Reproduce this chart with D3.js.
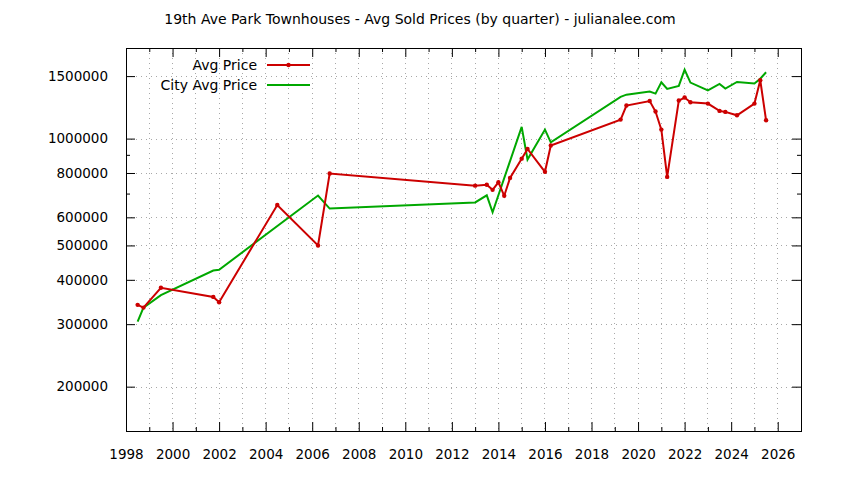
<!DOCTYPE html>
<html>
<head>
<meta charset="utf-8">
<script src="https://cdn.jsdelivr.net/npm/d3@7"></script>
<style>
  html, body { margin: 0; padding: 0; background: #ffffff; }
  svg { display: block; font-family: "DejaVu Sans", sans-serif; }
</style>
</head>
<body>
<svg id="chart" width="844" height="480"></svg>
<script>
// ---- data ----
const titleText = "19th Ave Park Townhouses - Avg Sold Prices (by quarter) - julianalee.com";
const seriesNames = ["Avg Price", "City Avg Price"];

const avgQuarters = [1998.5, 1998.75, 1999.5, 2001.75, 2002.0, 2004.5, 2006.25, 2006.75,
  2013.0, 2013.5, 2013.75, 2014.0, 2014.25, 2014.5, 2015.0, 2015.25, 2016.0, 2016.25,
  2019.25, 2019.5, 2020.5, 2020.75, 2021.0, 2021.25, 2021.75, 2022.0, 2022.25,
  2023.0, 2023.5, 2023.75, 2024.25, 2025.0, 2025.25, 2025.5];
const avgPrices = [340000, 334000, 380000, 358000, 346000, 650000, 500000, 797000,
  737000, 741000, 717000, 753000, 690000, 775000, 878000, 935000, 806000, 956000,
  1131000, 1239000, 1276000, 1192000, 1060000, 780000, 1280000, 1305000, 1266000,
  1255000, 1197000, 1189000, 1163000, 1255000, 1460000, 1126000];

const cityQuarters = [1998.5, 1998.75, 1999.5, 2001.75, 2002.0, 2006.25, 2006.75,
  2013.0, 2013.5, 2013.75, 2015.0, 2015.25, 2016.0, 2016.25,
  2019.25, 2019.5, 2020.5, 2020.75, 2021.0, 2021.25, 2021.75, 2022.0, 2022.25,
  2023.0, 2023.5, 2023.75, 2024.25, 2025.0, 2025.25, 2025.5];
const cityPrices = [305000, 334000, 362000, 425000, 427000, 691000, 635000,
  661000, 692000, 620000, 1079000, 873000, 1060000, 976000,
  1311000, 1330000, 1357000, 1339000, 1441000, 1380000, 1408000, 1565000, 1438000,
  1368000, 1426000, 1383000, 1444000, 1429000, 1475000, 1538000];

const xDomain = [1998, 2027];
const xMajorTicks = [1998, 2000, 2002, 2004, 2006, 2008, 2010, 2012, 2014, 2016, 2018, 2020, 2022, 2024, 2026];
const xMinorTicks = [1999, 2001, 2003, 2005, 2007, 2009, 2011, 2013, 2015, 2017, 2019, 2021, 2023, 2025, 2027];
const yDomain = [150000, 1800000];
const yMajorTicks = [200000, 300000, 400000, 500000, 600000, 800000, 1000000, 1500000];
const yMinorTicks = [700000, 900000];

// ---- layout ----
const svg = d3.select("#chart");
const L = 126, R = 801, T = 48, B = 431;
const x = d3.scaleLinear().domain(xDomain).range([L, R]);
const y = d3.scaleLog().domain(yDomain).range([B, T]);
const red = "#cc0000", green = "#00a800";
const gridColor = "#a8a8a8";
const tickFont = "13.5px", textFont = "14px";

// grid
const grid = svg.append("g");
xMajorTicks.concat(xMinorTicks).filter(v => v > xDomain[0] && v < xDomain[1]).forEach(v => {
  grid.append("line").attr("x1", x(v)).attr("x2", x(v)).attr("y1", T).attr("y2", B)
    .attr("stroke", gridColor).attr("stroke-width", 1).attr("stroke-dasharray", "1,4")
    .attr("shape-rendering", "crispEdges");
});
yMajorTicks.forEach(v => {
  grid.append("line").attr("x1", L).attr("x2", R).attr("y1", Math.round(y(v)) + 0.5).attr("y2", Math.round(y(v)) + 0.5)
    .attr("stroke", gridColor).attr("stroke-width", 1).attr("stroke-dasharray", "1,4");
});

// axes with d3 axis generators (inward ticks, mirrored)
function styleAxis(g) {
  g.select(".domain").remove();
  g.selectAll("line").attr("stroke", "#000");
  g.selectAll("text").attr("fill", "#000").style("font-size", tickFont).style("font-family", "DejaVu Sans, sans-serif");
}
// bottom
svg.append("g").attr("transform", `translate(0,${B})`)
  .call(d3.axisBottom(x).tickValues(xMajorTicks).tickFormat(d3.format("d")).tickSizeInner(-9).tickPadding(18))
  .call(styleAxis);
svg.append("g").attr("transform", `translate(0,${B})`)
  .call(d3.axisBottom(x).tickValues(xMinorTicks).tickFormat("").tickSizeInner(-4))
  .call(styleAxis);
// top mirror
svg.append("g").attr("transform", `translate(0,${T})`)
  .call(d3.axisTop(x).tickValues(xMajorTicks).tickFormat("").tickSizeInner(-9))
  .call(styleAxis);
svg.append("g").attr("transform", `translate(0,${T})`)
  .call(d3.axisTop(x).tickValues(xMinorTicks).tickFormat("").tickSizeInner(-4))
  .call(styleAxis);
// left
svg.append("g").attr("transform", `translate(${L},0)`)
  .call(d3.axisLeft(y).tickValues(yMajorTicks).tickFormat(d3.format("d")).tickSizeInner(-9).tickPadding(18))
  .call(styleAxis);
svg.append("g").attr("transform", `translate(${L},0)`)
  .call(d3.axisLeft(y).tickValues(yMinorTicks).tickFormat("").tickSizeInner(-4))
  .call(styleAxis);
// right mirror
svg.append("g").attr("transform", `translate(${R},0)`)
  .call(d3.axisRight(y).tickValues(yMajorTicks).tickFormat("").tickSizeInner(-9))
  .call(styleAxis);
svg.append("g").attr("transform", `translate(${R},0)`)
  .call(d3.axisRight(y).tickValues(yMinorTicks).tickFormat("").tickSizeInner(-4))
  .call(styleAxis);

// border
svg.append("rect").attr("x", L + 0.5).attr("y", T + 0.5).attr("width", R - L).attr("height", B - T)
  .attr("fill", "none").attr("stroke", "#000").attr("stroke-width", 1);

// lines
const line = d3.line().x(d => x(d[0])).y(d => y(d[1]));
const cityData = cityQuarters.map((q, i) => [q, cityPrices[i]]);
const avgData = avgQuarters.map((q, i) => [q, avgPrices[i]]);

svg.append("path").datum(cityData).attr("d", line)
  .attr("fill", "none").attr("stroke", green).attr("stroke-width", 2).attr("stroke-linejoin", "miter");
svg.append("path").datum(avgData).attr("d", line)
  .attr("fill", "none").attr("stroke", red).attr("stroke-width", 2).attr("stroke-linejoin", "miter");
svg.append("g").selectAll("circle").data(avgData).join("circle")
  .attr("cx", d => x(d[0])).attr("cy", d => y(d[1])).attr("r", 2.2).attr("fill", red);

// legend
const leg = svg.append("g");
const legRows = [{ name: seriesNames[0], color: red, pts: true, yy: 65 }, { name: seriesNames[1], color: green, pts: false, yy: 85 }];
legRows.forEach(r => {
  leg.append("text").attr("x", 257).attr("y", r.yy).attr("dy", "0.35em").attr("text-anchor", "end")
    .style("font-size", textFont).attr("fill", "#000").text(r.name);
  leg.append("line").attr("x1", 267).attr("x2", 310).attr("y1", r.yy).attr("y2", r.yy)
    .attr("stroke", r.color).attr("stroke-width", 2);
  if (r.pts) leg.append("circle").attr("cx", 288.5).attr("cy", r.yy).attr("r", 2.2).attr("fill", r.color);
});

// title
svg.append("text").attr("x", 420).attr("y", 19).attr("dy", "0.35em").attr("text-anchor", "middle")
  .style("font-size", textFont).attr("fill", "#000").text(titleText);
</script>
</body>
</html>
